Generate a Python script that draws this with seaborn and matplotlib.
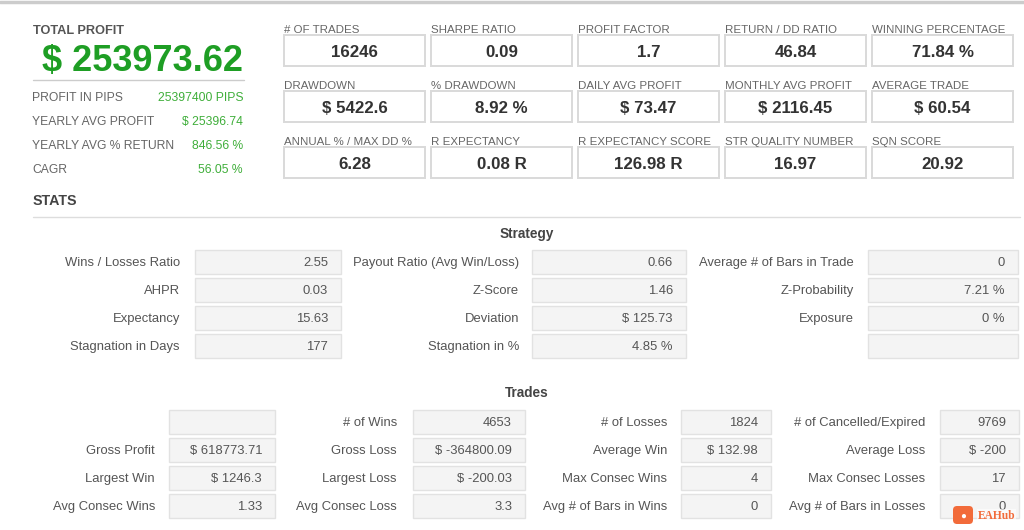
"""
Strategy report card: total profit, KPI tiles and two stat tables.
"""
import matplotlib
matplotlib.use('Agg')
import seaborn as sns
import matplotlib.pyplot as plt
from matplotlib.patches import Rectangle, FancyBboxPatch

# ---- data -------------------------------------------------------------
total_profit = '$ 253973.62'

summary_labels = ['PROFIT IN PIPS', 'YEARLY AVG PROFIT', 'YEARLY AVG % RETURN', 'CAGR']
summary_values = ['25397400 PIPS', '$ 25396.74', '846.56 %', '56.05 %']

kpi_labels = ['# OF TRADES', 'SHARPE RATIO', 'PROFIT FACTOR', 'RETURN / DD RATIO', 'WINNING PERCENTAGE',
              'DRAWDOWN', '% DRAWDOWN', 'DAILY AVG PROFIT', 'MONTHLY AVG PROFIT', 'AVERAGE TRADE',
              'ANNUAL % / MAX DD %', 'R EXPECTANCY', 'R EXPECTANCY SCORE', 'STR QUALITY NUMBER', 'SQN SCORE']
kpi_values = ['16246', '0.09', '1.7', '46.84', '71.84 %',
              '$ 5422.6', '8.92 %', '$ 73.47', '$ 2116.45', '$ 60.54',
              '6.28', '0.08 R', '126.98 R', '16.97', '20.92']

# strategy table, one list per column group (top to bottom)
strategy_labels = [['Wins / Losses Ratio', 'AHPR', 'Expectancy', 'Stagnation in Days'],
                   ['Payout Ratio (Avg Win/Loss)', 'Z-Score', 'Deviation', 'Stagnation in %'],
                   ['Average # of Bars in Trade', 'Z-Probability', 'Exposure', '']]
strategy_values = [['2.55', '0.03', '15.63', '177'],
                   ['0.66', '1.46', '$ 125.73', '4.85 %'],
                   ['0', '7.21 %', '0 %', '']]

trades_labels = [['', 'Gross Profit', 'Largest Win', 'Avg Consec Wins'],
                 ['# of Wins', 'Gross Loss', 'Largest Loss', 'Avg Consec Loss'],
                 ['# of Losses', 'Average Win', 'Max Consec Wins', 'Avg # of Bars in Wins'],
                 ['# of Cancelled/Expired', 'Average Loss', 'Max Consec Losses', 'Avg # of Bars in Losses']]
trades_values = [['', '$ 618773.71', '$ 1246.3', '1.33'],
                 ['4653', '$ -364800.09', '$ -200.03', '3.3'],
                 ['1824', '$ 132.98', '4', '0'],
                 ['9769', '$ -200', '17', '0']]

# ---- style ------------------------------------------------------------
sns.set_theme(style='white')
plt.rcParams['font.family'] = ['Liberation Sans', 'DejaVu Sans']

GREEN_BIG = '#1e9e24'
GREEN = '#3fae3a'
LABEL = '#666666'
VALUE = '#333333'
BORDER = '#d9d9d9'
FILL = '#f4f4f4'
DY = 1.2  # matplotlib centres text a touch high

fig = plt.figure(figsize=(10.24, 5.3), dpi=100)
ax = fig.add_axes([0, 0, 1, 1])
ax.set_xlim(0, 1024)
ax.set_ylim(530, 0)
ax.axis('off')

# top frame line
ax.axhline(2, color='#cccccc', lw=2.5)

# ---- total profit block -----------------------------------------------
ax.text(33, 30 + DY, 'TOTAL PROFIT', fontsize=9.2, weight='bold', color='#555555', va='center')
ax.text(243, 60 + DY, total_profit, fontsize=26, weight='bold', color=GREEN_BIG, va='center', ha='right')
ax.plot([33, 244], [80, 80], color='#cccccc', lw=1)
for k, (lab, val) in enumerate(zip(summary_labels, summary_values)):
    y = 97 + 24 * k + DY
    ax.text(32, y, lab, fontsize=8.7, color=LABEL, va='center')
    ax.text(243, y, val, fontsize=8.7, color=GREEN, va='center', ha='right')

# ---- KPI tiles ----------------------------------------------------------
for k, (lab, val) in enumerate(zip(kpi_labels, kpi_values)):
    r, c = divmod(k, 5)
    x0 = 284 + 147 * c
    top = 35 + 56 * r
    ax.text(x0, top - 6 + DY, lab, fontsize=8.25, color=LABEL, va='center')
    ax.add_patch(Rectangle((x0, top), 141, 31, facecolor='white', edgecolor=BORDER, lw=1.4))
    ax.text(x0 + 70.5, top + 16 + DY, val, fontsize=12.2, weight='bold', color=VALUE,
            va='center', ha='center')

# ---- STATS header -------------------------------------------------------
ax.text(33, 200 + DY, 'STATS', fontsize=10.3, weight='bold', color='#444444', va='center')
ax.plot([33, 1020], [217, 217], color='#dddddd', lw=1)


def draw_table(ax, title, title_y, labels, values, label_right, box_left, box_right, row_y):
    ax.text(527, title_y + DY, title, fontsize=9.8, weight='bold', color='#444444',
            va='center', ha='center')
    for g, (labs, vals) in enumerate(zip(labels, values)):
        for r, (lab, val) in enumerate(zip(labs, vals)):
            y = row_y + 28 * r
            ax.add_patch(Rectangle((box_left[g], y - 12), box_right[g] - box_left[g], 24,
                                   facecolor=FILL, edgecolor='#e2e2e2', lw=1))
            ax.text(label_right[g], y + DY, lab, fontsize=9.4, color='#555555', va='center', ha='right')
            ax.text(box_right[g] - 13, y + DY, val, fontsize=9.4, color='#555555', va='center', ha='right')


draw_table(ax, 'Strategy', 233, strategy_labels, strategy_values,
           [180, 519, 854], [195, 532, 868], [341, 686, 1018], 262)
draw_table(ax, 'Trades', 392, trades_labels, trades_values,
           [155, 397, 667, 925], [169, 413, 681, 940], [275, 525, 771, 1019], 422)

# watermark (sits over the last cell, as in the screenshot)
ax.add_patch(FancyBboxPatch((953, 506), 20, 18, boxstyle='round,pad=0,rounding_size=4',
                            facecolor='#f26b3a', edgecolor='none', zorder=5))
ax.text(963, 515.5, '\u25cf', fontsize=7, color='white', va='center', ha='center', zorder=6)
ax.text(978, 516, 'EAHub', fontsize=8.3, weight='bold', color='#f26b3a', va='center', zorder=6,
        family=['Liberation Serif', 'DejaVu Serif'],
        bbox=dict(facecolor='white', edgecolor='none', alpha=0.6, pad=0.5))

fig.savefig('out.png', dpi=100)
